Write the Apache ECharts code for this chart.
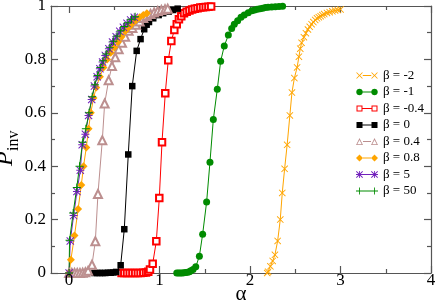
<!DOCTYPE html>
<html><head><meta charset="utf-8">
<script src="https://cdn.jsdelivr.net/npm/echarts@6/dist/echarts.min.js"></script>
<style>html,body{margin:0;padding:0;background:#fff;overflow:hidden}#c{width:436px;height:304px}</style>
</head><body><div id="c"></div>
<script>
// ---- data ----
const legendLabels = ['β = -2','β = -1','β = -0.4','β = 0','β = 0.4','β = 0.8','β = 5','β = 50'];
const xTickValues = [0,1,2,3,4];
const xTickLabels = ['0','1','2','3','4'];
const xMinorTickValues = [0.5,1.5,2.5,3.5];

const xBetaM2 = [2.19,2.20,2.225,2.25,2.275,2.305,2.334,2.356,2.382,2.41,2.44,2.463,2.49,2.52,2.54,2.555,2.57,2.595,2.617,2.64,2.66,2.68,2.70,2.72,2.74,2.76,2.78,2.80,2.82,2.85,2.88,2.91,2.94,2.97,3.0];
const yBetaM2 = [0,0.005,0.025,0.045,0.068,0.12,0.20,0.30,0.39,0.48,0.59,0.676,0.73,0.77,0.81,0.84,0.862,0.883,0.898,0.912,0.922,0.932,0.94,0.948,0.954,0.958,0.962,0.966,0.97,0.974,0.977,0.98,0.983,0.985,0.987];

const xBetaM1 = [1.19,1.21,1.23,1.25,1.27,1.29,1.31,1.33,1.345,1.37,1.40,1.44,1.476,1.52,1.557,1.594,1.638,1.675,1.715,1.76,1.797,1.826,1.863,1.90,1.936,1.98,2.02,2.05,2.08,2.11,2.14,2.17,2.20,2.24,2.28,2.32,2.36];
const yBetaM1 = [0,0,0,0,0.001,0.002,0.003,0.005,0.008,0.013,0.023,0.063,0.145,0.266,0.415,0.575,0.688,0.793,0.85,0.891,0.916,0.932,0.945,0.958,0.966,0.975,0.982,0.985,0.988,0.99,0.992,0.994,0.995,0.996,0.997,0.998,0.999];

const xBetaM04 = [0.58,0.61,0.64,0.67,0.70,0.73,0.76,0.79,0.82,0.85,0.875,0.894,0.924,0.964,0.997,1.027,1.063,1.096,1.13,1.163,1.19,1.214,1.24,1.27,1.30,1.33,1.36,1.39,1.42,1.45,1.48,1.51,1.54,1.57];
const yBetaM04 = [0,0,0,0,0,0,0,0,0.001,0.002,0.005,0.013,0.035,0.119,0.281,0.49,0.673,0.797,0.869,0.91,0.932,0.95,0.962,0.973,0.978,0.983,0.987,0.99,0.992,0.994,0.995,0.996,0.997,0.998];

const xBeta0 = [0.28,0.31,0.34,0.37,0.40,0.43,0.46,0.49,0.52,0.57,0.61,0.654,0.698,0.747,0.79,0.83,0.857,0.883,0.93,0.99,1.04,1.10,1.15,1.20];
const yBeta0 = [0,0,0,0,0,0.001,0.001,0.002,0.004,0.029,0.164,0.444,0.70,0.832,0.876,0.913,0.93,0.94,0.954,0.966,0.973,0.979,0.985,0.99];

const xBeta04 = [0,0.03,0.06,0.09,0.12,0.15,0.18,0.21,0.253,0.29,0.319,0.367,0.393,0.437,0.474,0.51,0.548,0.585,0.62,0.658,0.70,0.74,0.78,0.82,0.86,0.90,0.94,0.98,1.02,1.06,1.09];
const yBeta04 = [0,0,0,0,0,0.001,0.003,0.008,0.031,0.119,0.296,0.497,0.635,0.722,0.775,0.808,0.838,0.862,0.885,0.907,0.918,0.93,0.942,0.955,0.963,0.97,0.976,0.981,0.985,0.988,0.99];

const xBeta08 = [0,0.02,0.06,0.10,0.135,0.16,0.19,0.215,0.24,0.27,0.30,0.34,0.38,0.42,0.46,0.50,0.54,0.58,0.62,0.66,0.70,0.74,0.78,0.82,0.86];
const yBeta08 = [0,0.05,0.14,0.24,0.33,0.40,0.47,0.54,0.60,0.655,0.695,0.735,0.77,0.80,0.825,0.845,0.865,0.885,0.905,0.92,0.935,0.948,0.958,0.966,0.973];

const xBeta5 = [0,0.013,0.05,0.087,0.124,0.145,0.18,0.215,0.25,0.28,0.31,0.34,0.37,0.40,0.44,0.48,0.52,0.56,0.60,0.64,0.68,0.72];
const yBeta5 = [0,0.12,0.215,0.305,0.385,0.48,0.52,0.59,0.65,0.70,0.735,0.765,0.79,0.815,0.84,0.865,0.885,0.905,0.92,0.935,0.948,0.958];

const xBeta50 = [0,0.005,0.045,0.085,0.115,0.15,0.185,0.22,0.255,0.285,0.315,0.345,0.375,0.41,0.45,0.49,0.53,0.57,0.61,0.65,0.69,0.73];
const yBeta50 = [0,0.123,0.225,0.32,0.40,0.49,0.54,0.60,0.66,0.705,0.74,0.77,0.795,0.82,0.845,0.868,0.888,0.907,0.923,0.937,0.95,0.96];

// ---- styles ----
const colors = ['#ffa500','#008b00','#ff0000','#000000','#bc8f8f','#ffa500','#7221bc','#008b00'];
const FONT = 'Liberation Serif, Times New Roman, serif';
const FRAME = '#555';

const X_POLY = [[0,0.9],[0.9,0],[5,4.1],[9.1,0],[10,0.9],[5.9,5],[10,9.1],[9.1,10],[5,5.9],[0.9,10],[0,9.1],[4.1,5]];
const PLUS_POLY = [[4.4,0],[5.6,0],[5.6,4.4],[10,4.4],[10,5.6],[5.6,5.6],[5.6,10],[4.4,10],[4.4,5.6],[0,5.6],[0,4.4],[4.4,4.4]];
const SQ = [[0,0],[10,0],[10,10],[0,10]];
const SQ_IN = [[1.7,1.7],[1.7,8.3],[8.3,8.3],[8.3,1.7]];
const TRI = [[5,0],[10,10],[0,10]];
const TRI_IN = [[5,2.8],[1.8,9],[8.2,9]];
const DIA = [[5,0],[10,5],[5,10],[0,5]];
const CIRC = Array.from({length:20},(_,k)=>[5+5*Math.cos(2*Math.PI*k/20),5+5*Math.sin(2*Math.PI*k/20)]);

function polyStr(poly, ox, oy, s){
  return 'M' + poly.map(p=>(ox+p[0]*s/10).toFixed(2)+','+(oy+p[1]*s/10).toFixed(2)).join('L') + 'Z';
}
function symPath(polys){ return 'path://' + polys.map(p=>polyStr(p,0,0,10)).join(''); }

const X_SYM = symPath([X_POLY]);
const PLUS_SYM = symPath([PLUS_POLY]);
const STAR_SYM = symPath([PLUS_POLY, X_POLY]);

const seriesShapes = [
  {symbol: X_SYM, size: 7, legend: [X_POLY], ls: 6.5},
  {symbol: 'circle', size: 7, legend: [CIRC], ls: 6.5},
  {symbol: 'emptyRect', size: 6.5, legend: [SQ, SQ_IN], ls: 6},
  {symbol: 'rect', size: 6.5, legend: [SQ], ls: 6},
  {symbol: 'emptyTriangle', size: 8, legend: [TRI, TRI_IN], ls: 7},
  {symbol: 'diamond', size: 8, legend: [DIA], ls: 7},
  {symbol: STAR_SYM, size: 8, legend: [PLUS_POLY, X_POLY], ls: 7},
  {symbol: PLUS_SYM, size: 8, legend: [PLUS_POLY], ls: 7}
];

function legendIcon(polys, s){
  const W = 22, H = 8, c1 = 3.5, c2 = 18.5;
  let d = 'M0,0M' + W + ',' + H;
  [c1,c2].forEach(cx=>polys.forEach(p=>{ d += polyStr(p, cx - s/2, H/2 - s/2, s); }));
  d += 'M'+(c1+s/2)+',3.5L'+(c2-s/2)+',3.5L'+(c2-s/2)+',4.5L'+(c1+s/2)+',4.5Z';
  return 'path://' + d;
}

const xs = [xBetaM2,xBetaM1,xBetaM04,xBeta0,xBeta04,xBeta08,xBeta5,xBeta50];
const ys = [yBetaM2,yBetaM1,yBetaM04,yBeta0,yBeta04,yBeta08,yBeta5,yBeta50];

const series = legendLabels.map((name,i)=>{
  const sh = seriesShapes[i];
  const isEmpty = typeof sh.symbol === 'string' && sh.symbol.indexOf('empty') === 0;
  return {
    name, type: 'line',
    data: xs[i].map((v,k)=>[v, ys[i][k]]),
    symbol: sh.symbol, symbolSize: sh.size,
    showSymbol: true, showAllSymbol: true, clip: false,
    lineStyle: {color: colors[i], width: 1},
    itemStyle: {color: colors[i], borderWidth: isEmpty ? 1 : 0},
    emphasis: {disabled: true},
    animation: false
  };
});

const baseX = {type: 'value', min: -0.2, max: 4, splitLine: {show: false}};
const chart = echarts.init(document.getElementById('c'), null, {renderer: 'canvas'});
chart.setOption({
  backgroundColor: '#fff',
  animation: false,
  grid: {left: 51, right: 5, top: 6, bottom: 31, containLabel: false, outerBoundsMode: 'none'},
  xAxis: [
    Object.assign({}, baseX, {
      position: 'bottom',
      axisLine: {show: true, onZero: false, lineStyle: {color: FRAME, width: 1.2}},
      axisTick: {show: true, inside: true, length: 7, customValues: xTickValues, lineStyle: {color: FRAME, width: 1.2}},
      axisLabel: {show: false}
    }),
    Object.assign({}, baseX, {
      position: 'top',
      axisLine: {show: true, onZero: false, lineStyle: {color: FRAME, width: 1.2}},
      axisTick: {show: true, inside: true, length: 7, customValues: xTickValues, lineStyle: {color: FRAME, width: 1.2}},
      axisLabel: {show: false}
    }),
    Object.assign({}, baseX, {
      position: 'bottom',
      axisLine: {show: false, onZero: false},
      axisTick: {show: true, inside: true, length: 4, customValues: xMinorTickValues, lineStyle: {color: FRAME, width: 1.2}},
      axisLabel: {show: false}
    }),
    Object.assign({}, baseX, {
      position: 'top',
      axisLine: {show: false, onZero: false},
      axisTick: {show: true, inside: true, length: 4, customValues: xMinorTickValues, lineStyle: {color: FRAME, width: 1.2}},
      axisLabel: {show: false}
    })
  ],
  yAxis: [
    {
      type: 'value', min: 0, max: 1, interval: 0.2, position: 'left',
      splitLine: {show: false},
      axisLine: {show: true, onZero: false, lineStyle: {color: FRAME, width: 1.2}},
      axisTick: {show: true, inside: true, length: 7, lineStyle: {color: FRAME, width: 1.2}},
      minorTick: {show: true, splitNumber: 2, length: 4, lineStyle: {color: FRAME, width: 1.2}},
      axisLabel: {show: true, margin: 5, fontFamily: FONT, fontSize: 17, color: '#000'}
    },
    {
      type: 'value', min: 0, max: 1, interval: 0.2, position: 'right',
      splitLine: {show: false},
      axisLine: {show: true, onZero: false, lineStyle: {color: FRAME, width: 1.2}},
      axisTick: {show: true, inside: true, length: 7, lineStyle: {color: FRAME, width: 1.2}},
      minorTick: {show: true, splitNumber: 2, length: 4, lineStyle: {color: FRAME, width: 1.2}},
      axisLabel: {show: false}
    }
  ],
  legend: {
    orient: 'vertical', left: 351, top: 64,
    itemWidth: 22, itemHeight: 8, itemGap: 3.5,
    selectedMode: false,
    textStyle: {fontFamily: FONT, fontSize: 13, color: '#000'},
    data: legendLabels.map((name,i)=>({
      name, icon: legendIcon(seriesShapes[i].legend, seriesShapes[i].ls),
      itemStyle: {color: colors[i], borderWidth: 0, borderColor: colors[i]}
    }))
  },
  series
});

// x tick labels placed through the axis scale (library conversion), on a top layer
const yZeroPx = chart.convertToPixel({yAxisIndex: 0}, 0);
const tickLabelTexts = xTickValues.map((v,i)=>({
  type: 'text', id: 'xtick' + i,
  x: chart.convertToPixel({xAxisIndex: 0}, v),
  y: yZeroPx + 8,
  z: 1000, zlevel: 1,
  silent: true,
  style: {text: xTickLabels[i], font: '17px ' + FONT, fill: '#000', textAlign: 'center', textVerticalAlign: 'middle'}
}));
const xMidPx = (chart.convertToPixel({xAxisIndex: 0}, -0.2) + chart.convertToPixel({xAxisIndex: 0}, 4)) / 2;

chart.setOption({
  graphic: tickLabelTexts.concat([
    {type: 'text', id: 'xname', x: xMidPx, y: yZeroPx + 21, silent: true, z: 1000, zlevel: 1,
     style: {text: 'α', font: '21px ' + FONT, fill: '#000', textAlign: 'center', textVerticalAlign: 'middle'}},
    {type: 'group', id: 'yname', x: 18, y: 166, rotation: Math.PI/2, silent: true, z: 1000, zlevel: 1,
     children: [
       {type: 'text', x: 0, y: 0, style: {text: 'P', font: 'italic 24px ' + FONT, fill: '#000', textAlign: 'left', textVerticalAlign: 'bottom'}},
       {type: 'text', x: 15, y: 4, style: {text: 'inv', font: '16px ' + FONT, fill: '#000', textAlign: 'left', textVerticalAlign: 'bottom'}}
     ]}
  ])
});
</script>
</body></html>
